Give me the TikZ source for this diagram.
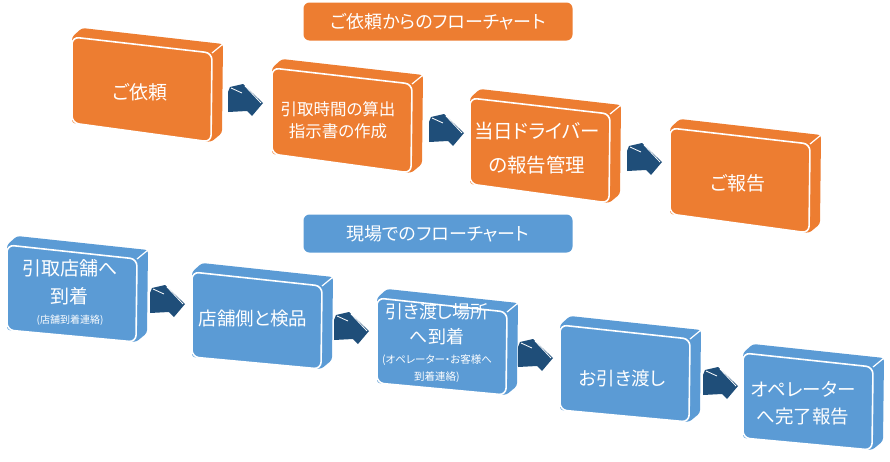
\documentclass[tikz,border=0pt]{standalone}
\usepackage{fontspec}
\newfontfamily\jp[RawFeature=+palt]{Noto Sans CJK JP}
\usetikzlibrary{calc}
\definecolor{org}{HTML}{ED7D31}
\definecolor{blu}{HTML}{5B9BD5}
\definecolor{arr}{HTML}{1F4E79}
% #1 name, #2 x, #3 y, #4 width, #5 top drop, #6 left height, #7 right height, #8 colour
\newcommand{\tdbox}[8]{%
  \coordinate (#1-tl) at (#2,#3);
  \coordinate (#1-tr) at ($(#1-tl)+(#4,#5)$);
  \coordinate (#1-br) at ($(#1-tr)+(-1,#7)$);
  \coordinate (#1-bl) at ($(#1-tl)+(0,#6)$);
  \fill[#8, rounded corners=3pt] (#1-tl) -- ($(#1-tl)+(10,-9)$) -- ($(#1-tr)+(11,-9)$)
     -- ($(#1-br)+(11,-9)$) -- (#1-br) -- (#1-bl) -- cycle;
  \draw[white, line width=1.2pt] (#1-tr) -- ($(#1-tr)+(11,-9)$);
  \filldraw[fill=#8, draw=white, line width=1.6pt, rounded corners=7pt]
     (#1-tl) -- (#1-tr) -- (#1-br) -- (#1-bl) -- cycle;
}
\tikzset{
  boxtext/.style={text=white, font=\jp\fontsize{19}{28}\selectfont, align=center, inner sep=0pt},
  titlebox/.style={text=white, font=\jp\fontsize{18}{20}\selectfont, rounded corners=6pt,
     minimum width=269pt, minimum height=38pt, inner sep=0pt},
  barrow/.pic={
    \fill[arr] (0,7) -- (2,2) -- (15,-1) -- (35,18) -- (24,31) -- (19,26) -- (0,27) -- cycle;
    \draw[white, line width=0.8pt] (3,3) -- (14,8);
    \draw[white, line width=0.8pt] (17,1) -- (33,18);
  }
}
\begin{document}
\begin{tikzpicture}[x=1pt, y=-1pt]
\useasboundingbox (0,0) rectangle (890,461);
% titles
\node[titlebox, fill=org] (title1) at (438,21.5) {ご依頼からのフローチャート};
\node[titlebox, fill=blu] (title2) at (438,233.5) {現場でのフローチャート};
% top row
\tdbox{o1}{72}{37}{140}{16}{86}{89}{org}
\tdbox{o2}{272}{68}{140}{16}{86}{89}{org}
\tdbox{o3}{470}{98}{140}{16}{86}{89}{org}
\tdbox{o4}{670}{128}{140}{16}{86}{89}{org}
\node[boxtext] (o1-t) at (140,92) {ご依頼};
\node[boxtext, font=\jp\fontsize{16.5}{22}\selectfont] (o2-t) at (338,120) {引取時間の算出\\指示書の作成};
\node[boxtext, font=\jp\fontsize{19.5}{34}\selectfont] (o3-t) at (537,148) {当日ドライバー\\の報告管理};
\node[boxtext] (o4-t) at (738,183) {ご報告};
\pic at ($(o1-tr)+(16,32)$) {barrow};
\pic at ($(o2-tr)+(17,31)$) {barrow};
\pic at ($(o3-tr)+(17,30)$) {barrow};
% bottom row
\tdbox{b1}{7}{245}{130}{14}{85}{83}{blu}
\tdbox{b2}{192}{272}{130}{14}{85}{83}{blu}
\tdbox{b3}{377}{298}{130}{14}{85}{83}{blu}
\tdbox{b4}{560}{325}{130}{14}{85}{83}{blu}
\tdbox{b5}{743}{353}{130}{14}{85}{83}{blu}
\node[boxtext] (b1-t) at (70,292) {引取店舗へ\\到着\\[-8pt]{\fontsize{10}{12}\selectfont (店舗到着連絡)}};
\node[boxtext, font=\jp\fontsize{18.5}{28}\selectfont] (b2-t) at (253,318) {店舗側と検品};
\node[boxtext, font=\jp\fontsize{18}{25}\selectfont] (b3-t) at (437,343) {引き渡し場所\\へ到着\\[-5pt]{\fontsize{10.5}{12}\selectfont (オペレーター・お客様へ}\\[-8pt]{\fontsize{10.5}{12}\selectfont 到着連絡)}};
\node[boxtext, font=\jp\fontsize{18.5}{28}\selectfont] (b4-t) at (622,378) {お引き渡し};
\node[boxtext, font=\jp\fontsize{18.5}{27}\selectfont] (b5-t) at (803,403) {オペレーター\\へ完了報告};
\pic at ($(b1-tr)+(13,27)$) {barrow};
\pic at ($(b2-tr)+(12,27)$) {barrow};
\pic at ($(b3-tr)+(11,28)$) {barrow};
\pic at ($(b4-tr)+(13,29)$) {barrow};
\end{tikzpicture}
\end{document}
